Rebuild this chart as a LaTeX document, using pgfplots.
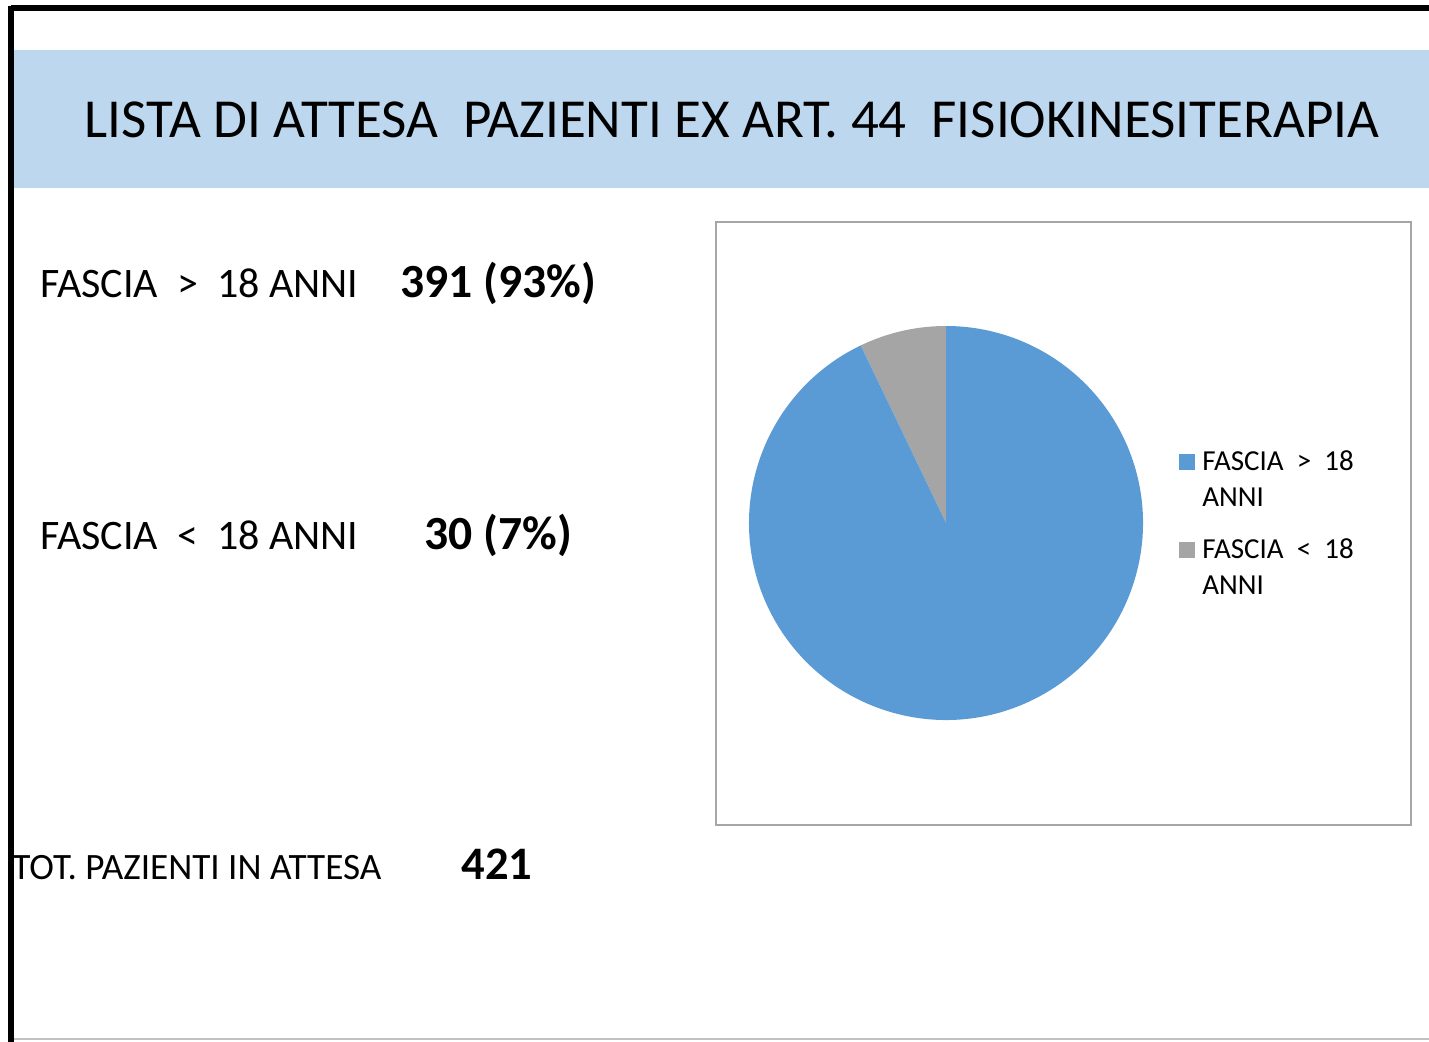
\documentclass[border=0pt]{standalone}
\usepackage{fontspec}
\setmainfont{Carlito}
\usepackage{pgfplots}
\usepackage{pgfplotstable}
\pgfplotsset{compat=1.18}
\definecolor{band}{HTML}{BDD7EE}
\definecolor{pieblue}{HTML}{5B9BD5}
\definecolor{piegray}{HTML}{A5A5A5}
\definecolor{boxgray}{HTML}{A6A6A6}
\pgfplotstableread{
label value
over18 391
under18 30
}\piedata
\begin{document}
\begin{tikzpicture}[x=0.5pt,y=-0.5pt]
\useasboundingbox (0,0) rectangle (1429,1042);
% frame
\fill[band] (14,50) rectangle (1429,188);
\draw[black,line width=3pt] (11,8) -- (1429,8);
\draw[black,line width=3pt] (11,6.5) -- (11,1042);
\draw[boxgray!70,line width=0.8pt] (14,1039) -- (1429,1039);
% title
\node[anchor=base,inner sep=0] at (732,138) {\fontsize{27.5}{30}\selectfont LISTA DI ATTESA\ \ PAZIENTI EX ART. 44\ \ FISIOKINESITERAPIA};
% left texts
\node[anchor=base west,inner sep=0] at (40,298) {\fontsize{21}{24}\selectfont FASCIA\ \ >\ \ 18 ANNI};
\node[anchor=base west,inner sep=0] at (400,298) {\fontsize{23.8}{26}\selectfont\bfseries 391 (93\%)};
\node[anchor=base west,inner sep=0] at (40,550) {\fontsize{21}{24}\selectfont FASCIA\ \ <\ \ 18 ANNI};
\node[anchor=base west,inner sep=0] at (424,550) {\fontsize{23.8}{26}\selectfont\bfseries 30 (7\%)};
\node[anchor=base west,inner sep=0] at (12,879) {\fontsize{18.6}{22}\selectfont TOT. PAZIENTI IN ATTESA};
\node[anchor=base west,inner sep=0] at (461,879) {\fontsize{23.3}{26}\selectfont\bfseries 421};
% chart box
\draw[boxgray,line width=0.8pt] (716,222) rectangle (1411,825);
% pie
\pgfplotstablegetelem{0}{value}\of\piedata \let\va\pgfplotsretval
\pgfplotstablegetelem{1}{value}\of\piedata \let\vb\pgfplotsretval
\pgfmathsetmacro{\tot}{\va+\vb}
\pgfmathsetmacro{\angb}{90+360*\vb/\tot}
\pgfmathsetmacro{\cx}{cos(\angb)}
\pgfmathsetmacro{\cy}{sin(\angb)}
\begin{axis}[at={(473pt,-261.5pt)},anchor=origin,x=98.5pt,y=98.5pt,
  xmin=-1,xmax=1,ymin=-1,ymax=1,hide axis,clip=false]
\fill[piegray] (axis cs:0,0) -- (axis cs:0,1) arc[start angle=90,end angle=\angb,radius=98.5pt] -- cycle;
\fill[pieblue] (axis cs:0,0) -- (axis cs:\cx,\cy) arc[start angle=\angb,end angle=450,radius=98.5pt] -- cycle;
\end{axis}
% legend
\fill[pieblue] (1179,454) rectangle (1195,470);
\fill[piegray] (1179,542) rectangle (1195,558);
\node[anchor=base west,inner sep=0] at (1202,471) {\fontsize{14.5}{16}\selectfont FASCIA\ \ >\ \ 18};
\node[anchor=base west,inner sep=0] at (1202,507) {\fontsize{14.5}{16}\selectfont ANNI};
\node[anchor=base west,inner sep=0] at (1202,559) {\fontsize{14.5}{16}\selectfont FASCIA\ \ <\ \ 18};
\node[anchor=base west,inner sep=0] at (1202,595) {\fontsize{14.5}{16}\selectfont ANNI};
\end{tikzpicture}
\end{document}
